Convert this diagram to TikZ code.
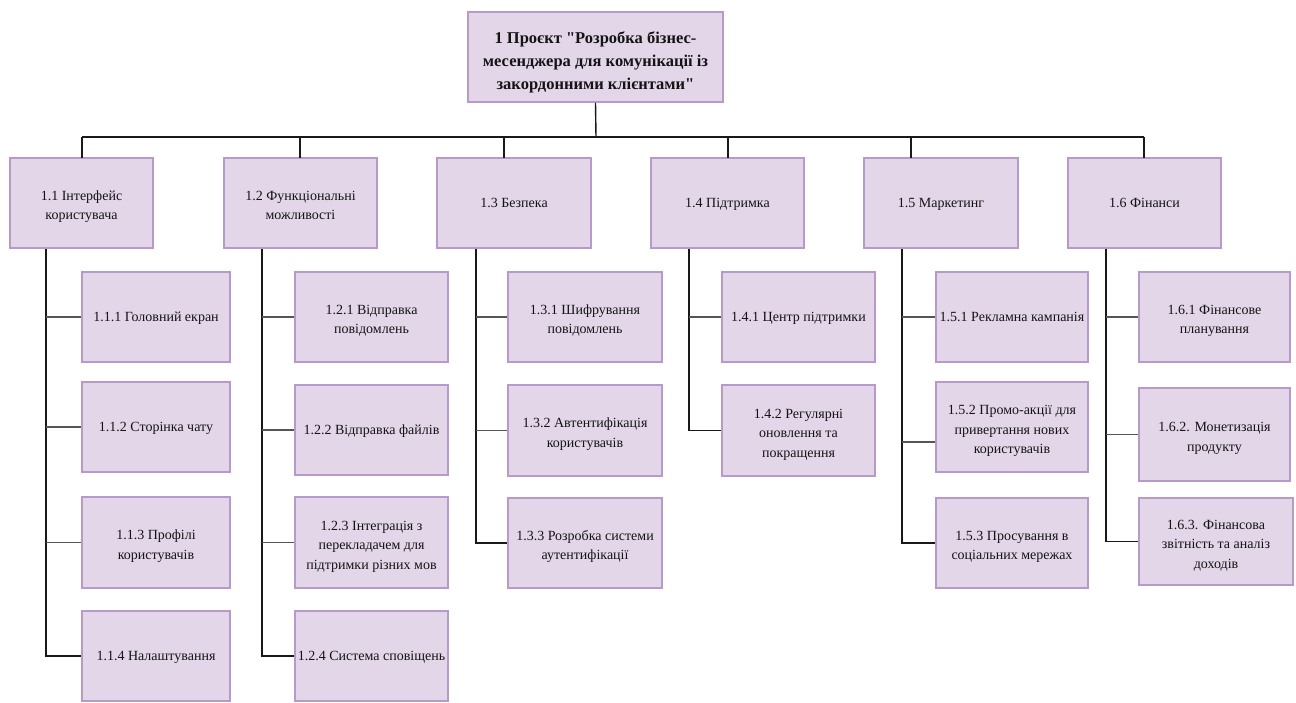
\documentclass[tikz,border=0pt]{standalone}
\usepackage{fontspec}
\setmainfont{Liberation Serif}
\definecolor{boxfill}{RGB}{226,214,232}
\definecolor{boxline}{RGB}{184,154,202}
\definecolor{trunkline}{RGB}{25,25,25}
\definecolor{twigline}{RGB}{85,85,85}
\definecolor{labeltext}{RGB}{20,20,20}
% invisible struts that lower the first text line a little
\newcommand\lowerA{\rule{0pt}{14pt}}
\newcommand\lowerB{\rule{0pt}{19pt}}
\begin{document}
\begin{tikzpicture}[x=1pt,y=-1pt,
  wbs/.style={draw=boxline, fill=boxfill, line width=1.3pt, inner sep=2pt,
    align=center, text=labeltext, text depth=-2pt,
    font=\fontsize{14}{19.5}\selectfont},
  rootbox/.style={wbs, line width=1.6pt,
    font=\fontsize{16.5}{23}\selectfont\bfseries},
  trunk/.style={draw=trunkline, line width=1.4pt},
  twig/.style={draw=twigline, line width=1.8pt}]
\useasboundingbox (0,0) rectangle (1296,702);

% root of the breakdown
\node[rootbox, minimum width=255pt, minimum height=90pt] (root) at (595.5,57)
  {\lowerB 1 Проєкт \textquotedbl Розробка бізнес-\\месенджера для комунікації із\\закордонними клієнтами\textquotedbl};

% first level
\node[wbs, minimum width=143pt, minimum height=90pt] (n11) at (81.5,203) {\lowerA 1.1 Інтерфейс\\користувача};
\node[wbs, minimum width=153pt, minimum height=90pt] (n12) at (300.5,203) {\lowerA 1.2 Функціональні\\можливості};
\node[wbs, minimum width=154pt, minimum height=90pt] (n13) at (514,203) {1.3 Безпека};
\node[wbs, minimum width=153pt, minimum height=90pt] (n14) at (727.5,203) {1.4 Підтримка};
\node[wbs, minimum width=154pt, minimum height=90pt] (n15) at (941,203) {1.5 Маркетинг};
\node[wbs, minimum width=153pt, minimum height=90pt] (n16) at (1144.5,203) {1.6 Фінанси};

% 1.1
\node[wbs, minimum width=148pt, minimum height=90pt] (n111) at (156,317) {1.1.1 Головний екран};
\node[wbs, minimum width=148pt, minimum height=90pt] (n112) at (156,427) {1.1.2 Сторінка чату};
\node[wbs, minimum width=148pt, minimum height=91pt] (n113) at (156,542.5) {\lowerA 1.1.3 Профілі\\користувачів};
\node[wbs, minimum width=148pt, minimum height=90pt] (n114) at (156,656) {1.1.4 Налаштування};

% 1.2
\node[wbs, minimum width=153pt, minimum height=90pt] (n121) at (371.5,317) {\lowerA 1.2.1 Відправка\\повідомлень};
\node[wbs, minimum width=153pt, minimum height=90pt] (n122) at (371.5,430) {1.2.2 Відправка файлів};
\node[wbs, minimum width=153pt, minimum height=91pt] (n123) at (371.5,542.5) {\lowerA 1.2.3 Інтеграція з\\перекладачем для\\підтримки різних мов};
\node[wbs, minimum width=153pt, minimum height=90pt] (n124) at (371.5,656) {1.2.4 Система сповіщень};

% 1.3
\node[wbs, minimum width=154pt, minimum height=90pt] (n131) at (585,317) {\lowerA 1.3.1 Шифрування\\повідомлень};
\node[wbs, minimum width=154pt, minimum height=91pt] (n132) at (585,430.5) {\lowerA 1.3.2 Автентифікація\\користувачів};
\node[wbs, minimum width=154pt, minimum height=90pt] (n133) at (585,543) {\lowerA 1.3.3 Розробка системи\\аутентифікації};

% 1.4
\node[wbs, minimum width=153pt, minimum height=90pt] (n141) at (798.5,317) {1.4.1 Центр підтримки};
\node[wbs, minimum width=153pt, minimum height=91pt] (n142) at (798.5,430.5) {\lowerA 1.4.2 Регулярні\\оновлення та\\покращення};

% 1.5
\node[wbs, minimum width=152pt, minimum height=90pt] (n151) at (1012,317) {1.5.1 Рекламна кампанія};
\node[wbs, minimum width=152pt, minimum height=90pt] (n152) at (1012,427) {\lowerA 1.5.2 Промо-акції для\\привертання нових\\користувачів};
\node[wbs, minimum width=152pt, minimum height=90pt] (n153) at (1012,543) {\lowerA 1.5.3 Просування в\\соціальних мережах};

% 1.6
\node[wbs, minimum width=151pt, minimum height=90pt] (n161) at (1214.5,317) {\lowerA 1.6.1 Фінансове\\планування};
\node[wbs, minimum width=151pt, minimum height=93pt] (n162) at (1214.5,434.5) {\lowerA 1.6.2. Монетизація\\продукту};
\node[wbs, minimum width=154pt, minimum height=87pt] (n163) at (1216,541.5) {\lowerA 1.6.3. Фінансова\\звітність та аналіз\\доходів};

% bus and drop points
\coordinate (bus) at (596,137);
\coordinate (d11) at (82,158);
\coordinate (d12) at (300,158);
\coordinate (d13) at (504,158);
\coordinate (d14) at (728,158);
\coordinate (d15) at (911,158);
\coordinate (d16) at (1144,158);

\draw[trunk] (root.south) -- (bus);
\draw[trunk] (d11 |- bus) -- (d16 |- bus);
\foreach \d in {d11,d12,d13,d14,d15,d16}
  \draw[trunk] (\d |- bus) -- (\d);

% trunk lines under each first-level box
\coordinate (t1) at (46,0);
\coordinate (t2) at (262,0);
\coordinate (t3) at (476,0);
\coordinate (t4) at (689,0);
\coordinate (t5) at (902,0);
\coordinate (t6) at (1106,0);

\draw[trunk] (t1 |- n11.south) -- (t1 |- n114.west) -- (n114.west);
\draw[trunk] (t2 |- n12.south) -- (t2 |- n124.west) -- (n124.west);
\draw[trunk] (t3 |- n13.south) -- (t3 |- n133.west) -- (n133.west);
\draw[trunk] (t4 |- n14.south) -- (t4 |- n142.west) -- (n142.west);
\draw[trunk] (t5 |- n15.south) -- (t5 |- n153.west) -- (n153.west);
\draw[trunk] (t6 |- n16.south) -- (t6 |- n163.west) -- (n163.west);

\draw[twig] (t1 |- n111.west) -- (n111.west);
\draw[twig] (t1 |- n112.west) -- (n112.west);
\draw[twig] (t1 |- n113.west) -- (n113.west);
\draw[twig] (t2 |- n121.west) -- (n121.west);
\draw[twig] (t2 |- n122.west) -- (n122.west);
\draw[twig] (t2 |- n123.west) -- (n123.west);
\draw[twig] (t3 |- n131.west) -- (n131.west);
\draw[twig] (t3 |- n132.west) -- (n132.west);
\draw[twig] (t4 |- n141.west) -- (n141.west);
\draw[twig] (t5 |- n151.west) -- (n151.west);
\draw[twig] ([yshift=-15pt]t5 |- n152.west) -- ([yshift=-15pt]n152.west);
\draw[twig] (t6 |- n161.west) -- (n161.west);
\draw[twig] (t6 |- n162.west) -- (n162.west);
\end{tikzpicture}
\end{document}
